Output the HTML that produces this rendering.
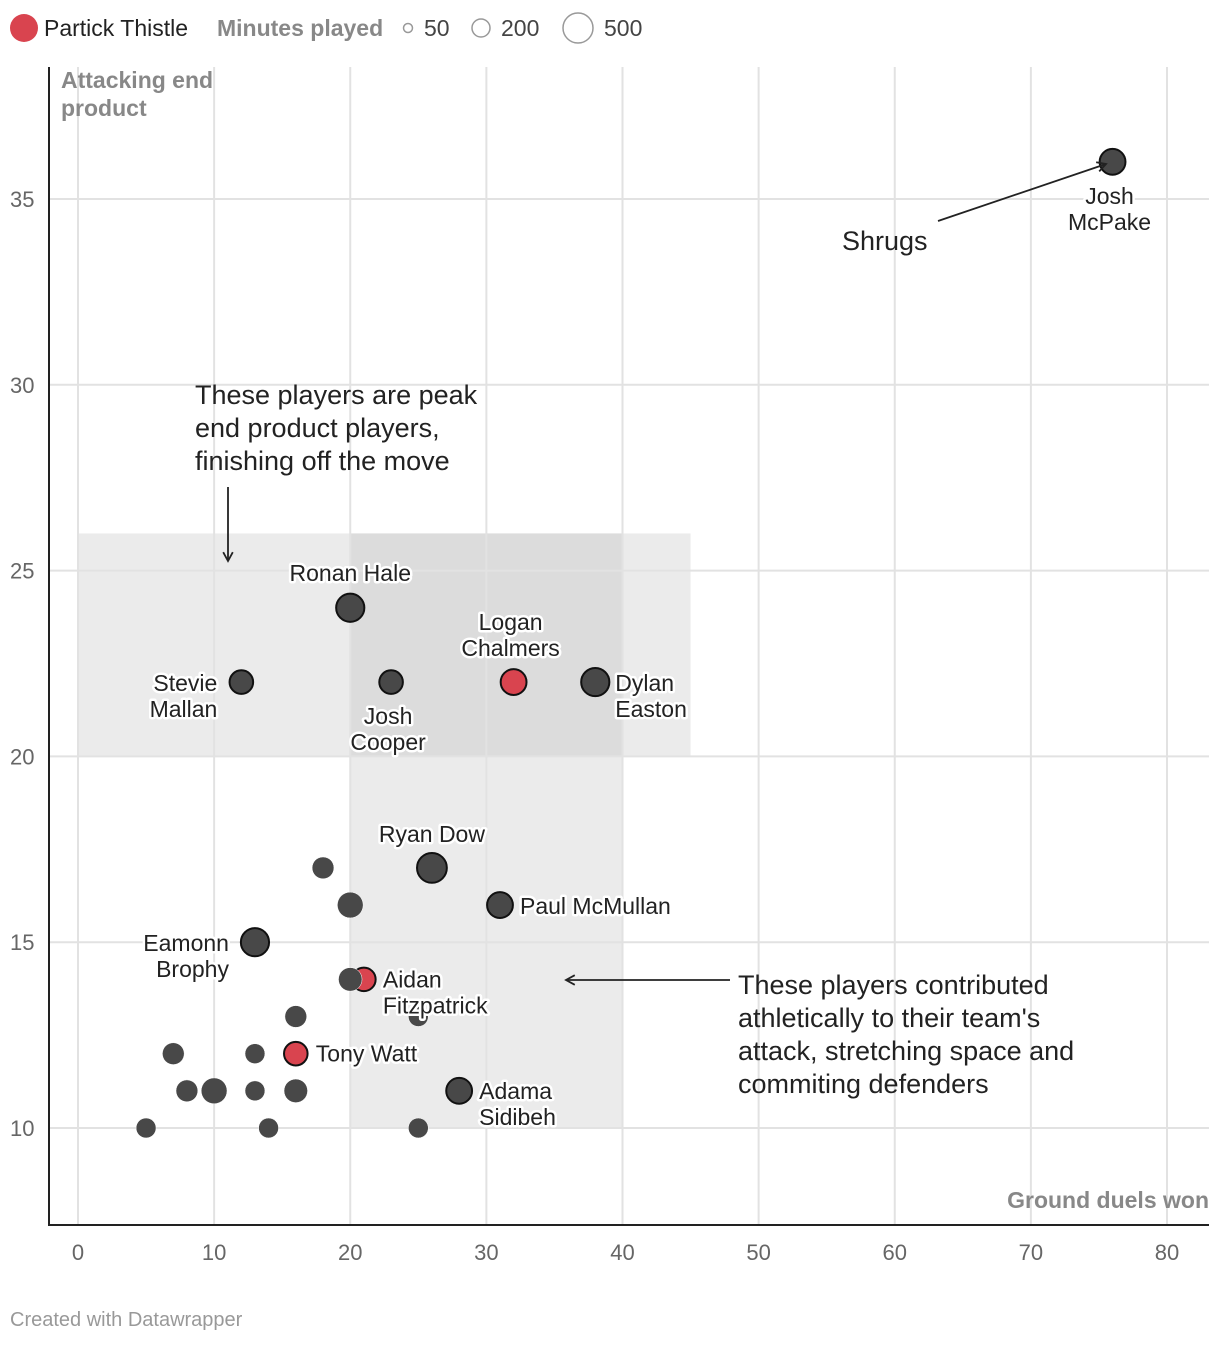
<!DOCTYPE html>
<html><head><meta charset="utf-8"><style>
body{margin:0;background:#fff;font-family:"Liberation Sans",sans-serif}
svg text{font-family:"Liberation Sans",sans-serif}
.lbl{font-size:23px;fill:#222;paint-order:stroke;stroke:#fff;stroke-width:5px;stroke-linejoin:round}
</style></head><body>
<svg id="c" width="1220" height="1342">
<g>
<circle cx="24" cy="28" r="14" fill="#d9444f"/>
<text x="44" y="36" font-size="23" fill="#222">Partick Thistle</text>
<text x="217" y="36" font-size="23" font-weight="bold" fill="#888">Minutes played</text>
<circle cx="408" cy="28" r="4.5" fill="none" stroke="#999" stroke-width="1.5"/>
<text x="424" y="36" font-size="23" fill="#444">50</text>
<circle cx="481" cy="28" r="9" fill="none" stroke="#999" stroke-width="1.5"/>
<text x="501" y="36" font-size="23" fill="#444">200</text>
<circle cx="578" cy="28" r="15" fill="none" stroke="#999" stroke-width="1.5"/>
<text x="604" y="36" font-size="23" fill="#444">500</text>
</g>
<g id="bg"></g><g id="grid"></g><g id="marks"></g><g id="ann"></g>
<line x1="49" y1="67" x2="49" y2="1226" stroke="#222" stroke-width="2"/>
<line x1="48" y1="1225" x2="1209" y2="1225" stroke="#222" stroke-width="2"/>
<text x="61" y="88" font-size="23" font-weight="bold" fill="#888"><tspan x="61">Attacking end</tspan><tspan x="61" dy="28">product</tspan></text>
<text x="1209" y="1208" text-anchor="end" font-size="23" font-weight="bold" fill="#888">Ground duels won</text>
<text x="10" y="1326" font-size="20" fill="#999">Created with Datawrapper</text>
</svg>
<script>
const xTicks=[0,10,20,30,40,50,60,70,80];
const yTicks=[10,15,20,25,30,35];
const names=["Josh\nMcPake","Ronan Hale","Stevie\nMallan","Josh\nCooper","Logan\nChalmers","Dylan\nEaston","Ryan Dow","Paul McMullan","Eamonn\nBrophy","","Aidan\nFitzpatrick","Tony Watt","Adama\nSidibeh","","","","","","","","","","","","",""];
const xs=[76,20,12,23,32,38,26,31,13,20,21,16,28,18,20,25,16,7,13,8,10,13,16,5,14,25];
const ys=[36,24,22,22,22,22,17,16,15,14,14,12,11,17,16,13,13,12,12,11,11,11,11,10,10,10];
const mins=[420,500,350,350,420,500,560,420,500,350,350,350,420,300,420,250,300,300,250,300,420,250,350,250,250,250];
const partick=[0,0,0,0,1,0,0,0,0,0,1,1,0,0,0,0,0,0,0,0,0,0,0,0,0,0];
const X=v=>78+v*13.6125, Y=v=>1128-(v-10)*37.16, R=m=>Math.sqrt(m)*0.63;
const NS="http://www.w3.org/2000/svg";
function mk(p,t,a){const e=document.createElementNS(NS,t);for(const k in a)e.setAttribute(k,a[k]);p.appendChild(e);return e;}
const bg=document.getElementById('bg'),grid=document.getElementById('grid'),marks=document.getElementById('marks'),ann=document.getElementById('ann');
let r1=mk(bg,'rect',{x:X(0),y:Y(26),width:X(45)-X(0),height:Y(20)-Y(26),fill:'#ebebeb'});


let r2=mk(bg,'rect',{x:X(20),y:Y(26),width:X(40)-X(20),height:Y(10)-Y(26),fill:'#ebebeb'});


let r3=mk(bg,'rect',{x:X(20),y:Y(26),width:X(40)-X(20),height:Y(20)-Y(26),fill:'#dcdcdc'});


xTicks.forEach(t=>{
 let l=mk(grid,'line',{x1:X(t),x2:X(t),y1:67,y2:1225,stroke:'#e2e2e2','stroke-width':2});
 
 
 let tx=mk(grid,'text',{x:X(t),y:1260,'text-anchor':'middle','font-size':22,fill:'#666'});tx.textContent=t;
 
 
});
yTicks.forEach(t=>{
 let l=mk(grid,'line',{x1:49,x2:1209,y1:Y(t),y2:Y(t),stroke:'#e2e2e2','stroke-width':2});
 
 
 let tx=mk(grid,'text',{x:10,y:Y(t)+8,'font-size':22,fill:'#666'});tx.textContent=t;
 
 
});
const order=xs.map((_,i)=>i).reverse();
order.forEach(i=>{
 const lab=names[i]!=="";
 let c=mk(marks,'circle',{cx:X(xs[i]),cy:Y(ys[i]),r:R(mins[i]),fill:partick[i]?'#d9444f':'#484848',stroke:lab?'#111':'#fff','stroke-width':lab?2:0.5});
 
 
});
const lp={0:[-3,42,'middle'],1:[0,-27,'middle'],2:[-24,9,'end'],3:[-3,42,'middle'],4:[-3,-52,'middle'],5:[20,9,'start'],6:[0,-26,'middle'],7:[20,9,'start'],8:[-26,9,'end'],10:[19,8,'start'],11:[20,8,'start'],12:[20,8,'start']};
for(const k in lp){const i=+k,[dx,dy,an]=lp[k];
 const t=mk(ann,'text',{x:X(xs[i])+dx,y:Y(ys[i])+dy,'text-anchor':an,class:'lbl'});
 names[i].split("\n").forEach((s,j)=>{const ts=mk(t,'tspan',{x:X(xs[i])+dx,dy:j?26:0});ts.textContent=s;});
 
 
}
function arrow(x1,y1,x2,y2,name){
 const g=mk(ann,'g',{stroke:'#222','stroke-width':1.8,fill:'none'});
 mk(g,'line',{x1,y1,x2,y2});
 const a=Math.atan2(y2-y1,x2-x1),h=10;
 mk(g,'polyline',{points:`${x2-h*Math.cos(a-0.5)},${y2-h*Math.sin(a-0.5)} ${x2},${y2} ${x2-h*Math.cos(a+0.5)},${y2-h*Math.sin(a+0.5)}`});
 
 
}
arrow(228,487,228,561,'peak-arrow');
arrow(730,980,566,980,'athletic-arrow');
arrow(938,221,1106,164,'shrugs-arrow');
function note(x,y,lines,name,lh,fs){
 const t=mk(ann,'text',{x,y,'font-size':fs,fill:'#222'});
 lines.forEach((s,j)=>{const ts=mk(t,'tspan',{x,dy:j?lh:0});ts.textContent=s;});
 
 
}
note(195,404,["These players are peak","end product players,","finishing off the move"],'peak-annotation',33,27);
note(738,994,["These players contributed","athletically to their team's","attack, stretching space and","commiting defenders"],'athletic-annotation',33,27);
note(842,250,["Shrugs"],'shrugs-annotation',0,27);
</script>
</body></html>
